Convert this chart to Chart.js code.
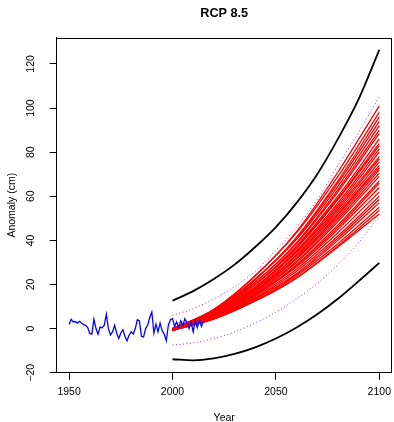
<!DOCTYPE html>
<html><head><meta charset="utf-8">
<script src="https://cdn.jsdelivr.net/npm/chart.js@4.4.1/dist/chart.umd.min.js"></script>
<style>html,body{margin:0;padding:0;background:#fff}canvas{display:block}</style>
</head><body>
<canvas id="c" width="394" height="422"></canvas>
<script>
const chartTitle = "RCP 8.5";
const xTitle = "Year";
const yTitle = "Anomaly (cm)";
const xTicks = [1950, 2000, 2050, 2100];
const yTicks = [-20, 0, 20, 40, 60, 80, 100, 120];

const obsYears = [1950,1951,1952,1953,1954,1955,1956,1957,1958,1959,1960,1961,1962,1963,1964,1965,1966,1967,1968,1969,1970,1971,1972,1973,1974,1975,1976,1977,1978,1979,1980,1981,1982,1983,1984,1985,1986,1987,1988,1989,1990,1991,1992,1993,1994,1995,1996,1997,1998,1999,2000,2001,2002,2003,2004,2005,2006,2007,2008,2009,2010,2011,2012,2013,2014,2015];
const obsValues = [1.9,4.2,3,3.2,2.5,3.3,2.5,1.8,1.5,0.5,-2.2,-2.5,4.3,0,-2.5,0.8,0.3,1.5,6.5,0,-2.8,-1.5,1.5,-2,-4.5,-2,-0.5,-3.5,-5.5,-3,-1.5,-2.5,0,4,3.5,-3.5,-3.8,0,1.5,5,7.5,-2,2,-1.5,2.5,-1,-2.5,-5.5,1.5,4,4.5,1,3,0.5,3.5,1.5,4.5,2.5,0,3,-1.5,3.5,0.5,4,1,3.5];

const runYears = [2000, 2020, 2040, 2060, 2080, 2100];
const runs = [
  [-0.5, 8.5, 24, 44, 71, 101],
  [-0.3, 8.8, 24, 43.5, 69, 98],
  [-0.8, 7.5, 22, 41.5, 67, 96],
  [-0.4, 8.2, 22.5, 41, 66, 94],
  [0.0, 8.5, 22.5, 40.5, 64.5, 92],
  [-0.6, 7.5, 21, 39, 63, 90],
  [-0.2, 8, 21, 38.5, 62, 88.5],
  [-0.7, 7.2, 20, 37.5, 60, 86],
  [-0.3, 7.5, 20, 37, 59, 84],
  [0.2, 7.8, 20, 36.5, 58.5, 83],
  [-0.5, 7, 19, 35.5, 57, 81.5],
  [-0.9, 6.5, 18.5, 35, 56, 80],
  [-0.1, 7.2, 18.8, 34.5, 55, 78],
  [-0.6, 6.5, 18, 33.5, 54, 77],
  [-0.2, 6.8, 17.8, 33, 53, 75.5],
  [-0.8, 6, 17, 32, 52, 74],
  [0.1, 6.8, 17.5, 32, 51.5, 73],
  [-0.4, 6.2, 17, 31.5, 50.5, 72],
  [-0.7, 5.8, 16.5, 30.5, 49.5, 70.5],
  [-0.2, 6, 16, 30, 48.5, 69],
  [-0.5, 5.5, 15.5, 29, 47, 67],
  [-0.9, 5, 15, 28.5, 46, 66],
  [0.0, 5.8, 15.5, 28, 45, 64],
  [-0.6, 5, 14.5, 27, 43.5, 62],
  [-0.3, 5, 14, 26, 42, 60],
  [-0.8, 4.5, 13.5, 25, 41, 58.5],
  [-0.4, 4.8, 13.5, 24.5, 40, 57],
  [-0.7, 4.3, 12.8, 24, 38.5, 55],
  [-0.2, 4.5, 12.5, 23, 37.5, 53.5],
  [-0.5, 4.5, 12.5, 23, 37, 52]
];

const envYears = [2000, 2010, 2020, 2030, 2040, 2050, 2060, 2070, 2080, 2090, 2100];
const blackUpper = [12.6, 17, 22.5, 29, 37, 46, 57, 70, 86, 104, 126.4];
const blackLower = [-13.9, -14.4, -13.5, -11.5, -8.5, -4.5, 0.5, 6.5, 13.5, 21.5, 29.8];
const purpleUpper = [6, 9, 13.5, 19, 26, 35.5, 46, 58.5, 74, 89, 105.2];
const purpleLower = [-7.5, -6.5, -4.5, -1.5, 2.5, 7.5, 13.5, 20.5, 29, 39, 51];

function pts(xs, ys) { return xs.map((x, i) => ({x: x, y: ys[i]})); }

const FONT = "'Liberation Sans', Arial, Helvetica, sans-serif";
const datasets = [];
datasets.push({data: pts(obsYears, obsValues), borderColor: '#0000ff', borderWidth: 1.3, tension: 0});
runs.forEach(r => datasets.push({data: pts(runYears, r), borderColor: '#ff0000', borderWidth: 1.3, cubicInterpolationMode: 'monotone'}));
[purpleUpper, purpleLower].forEach(d => datasets.push({data: pts(envYears, d), borderColor: '#a020f0', borderWidth: 1, borderDash: [1, 2.5], cubicInterpolationMode: 'monotone'}));
[blackUpper, blackLower].forEach(d => datasets.push({data: pts(envYears, d), borderColor: '#000000', borderWidth: 1.8, cubicInterpolationMode: 'monotone'}));

const framePlugin = {
  id: 'frame',
  afterDraw(chart) {
    const ctx = chart.ctx;
    const a = chart.chartArea;
    const l = Math.round(a.left), t = Math.round(a.top), r = Math.round(a.right), b = Math.round(a.bottom);
    ctx.save();
    ctx.fillStyle = '#000000';
    ctx.fillRect(l - 1, t, r - l + 1, 1);
    ctx.fillRect(r - 1, t, 1, b - t);
    ctx.fillRect(l - 1, b - 1, r - l + 1, 1);
    ctx.fillRect(l - 1, t, 1, b - t);
    ctx.font = "bold 12.7px " + FONT;
    ctx.textAlign = 'center';
    ctx.textBaseline = 'alphabetic';
    ctx.fillText(chartTitle, (a.left + a.right) / 2, 16.8);
    ctx.restore();
  }
};

new Chart(document.getElementById('c'), {
  type: 'line',
  data: {datasets: datasets},
  plugins: [framePlugin],
  options: {
    responsive: false,
    animation: false,
    devicePixelRatio: 1,
    layout: {padding: {top: 37.7, right: 2.3, left: 0, bottom: 0}},
    elements: {point: {radius: 0}, line: {fill: false}},
    plugins: {legend: {display: false}, tooltip: {enabled: false}, title: {display: false}},
    scales: {
      x: {
        type: 'linear', min: 1944, max: 2106,
        afterBuildTicks: s => { s.ticks = xTicks.map(v => ({value: v})); },
        afterFit: s => { s.height = 49.3; s.paddingLeft = 0; s.paddingRight = 0; },
        grid: {display: true, drawOnChartArea: false, drawTicks: true, tickLength: 7, color: '#000', lineWidth: 1},
        border: {display: true, color: '#000', width: 1},
        ticks: {color: '#000', font: {family: FONT, size: 10.5}, padding: 6, maxRotation: 0, autoSkip: false,
          callback: v => String(v)},
        title: {display: true, text: xTitle, color: '#000', font: {family: FONT, size: 10.5, lineHeight: 0.8}, padding: {top: 0, bottom: 0}}
      },
      y: {
        type: 'linear', min: -20, max: 131.9,
        afterBuildTicks: s => { s.ticks = yTicks.map(v => ({value: v})); },
        afterFit: s => { s.width = 56.7; s.paddingTop = 0; s.paddingBottom = 0; },
        grid: {display: true, drawOnChartArea: false, drawTicks: true, tickLength: 7, color: '#000', lineWidth: 1},
        border: {display: true, color: '#000', width: 1},
        ticks: {color: '#000', font: {family: FONT, size: 10.5}, padding: 9.8, minRotation: 90, maxRotation: 90, crossAlign: 'center', autoSkip: false,
          callback: v => (v < 0 ? '\u2212' + Math.abs(v) : String(v))},
        title: {display: true, text: yTitle, color: '#000', font: {family: FONT, size: 10.5, lineHeight: 1.2}, padding: {top: 6, bottom: 0}}
      }
    }
  }
});
</script>
</body></html>
